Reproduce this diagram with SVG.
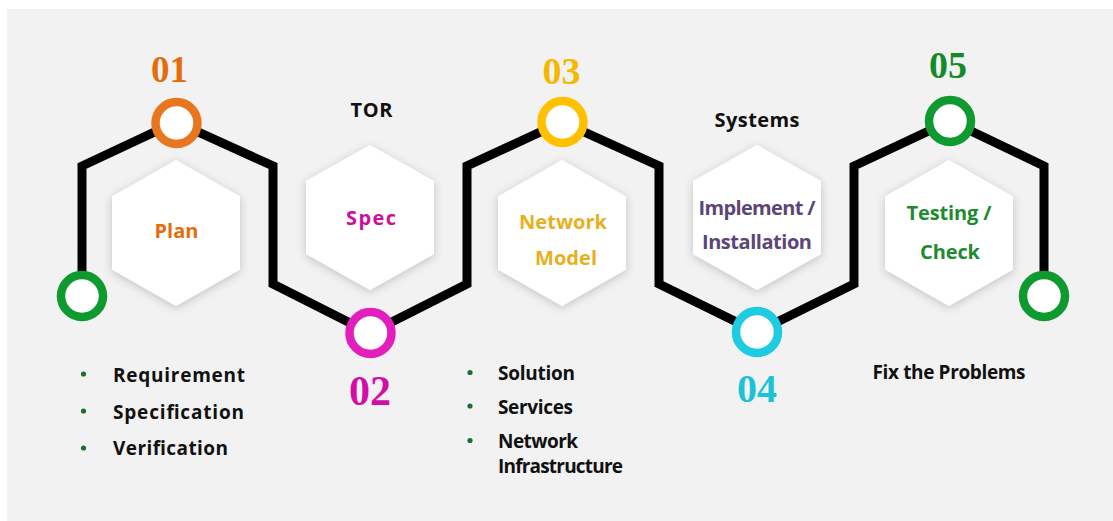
<svg xmlns="http://www.w3.org/2000/svg" width="1113" height="521" viewBox="0 0 1113 521">
<defs>
<filter id="sh" x="-30%" y="-30%" width="160%" height="160%">
<feDropShadow dx="0" dy="2" stdDeviation="5" flood-color="#000" flood-opacity="0.2"/>
</filter>
<style>
.hex{fill:#ffffff;filter:url(#sh)}
.ring{fill:#ffffff;stroke-width:8.5}
.num{font-family:"Liberation Serif","Times New Roman",serif;font-weight:700;text-anchor:middle}
.lbl{font-family:"Open Sans","Liberation Sans",sans-serif;font-weight:700;font-size:20px;text-anchor:middle}
.txt{font-family:"Open Sans","Liberation Sans",sans-serif;font-weight:700;font-size:19px;fill:#111111}
.dot{fill:#1e6e30}
</style>
</defs>
<rect x="0" y="0" width="1113" height="521" fill="#ffffff"/>
<rect x="7" y="9" width="1106" height="512" fill="#f2f2f2"/>

<g id="connectors">
<path d="M82,296 L82,166 L176,122 L273,166 L273,284 L370,333 L467,284 L467,166 L562,122 L659,166 L659,284 L757,332 L854,284 L854,166 L950,121 L1044,166 L1044,296" fill="none" stroke="#000000" stroke-width="9" stroke-linejoin="miter"/>
</g>

<g id="start">
<circle class="ring" cx="82" cy="296" r="21" stroke="#0f9a30"/>
</g>

<g id="step1">
<text class="num" x="169.5" y="82" font-size="37" fill="#e46c0a">01</text>
<circle class="ring" cx="176.5" cy="123" r="21" stroke="#e8761e"/>
<polygon class="hex" points="176,160 240,196.5 240,269.5 176,306 112,269.5 112,196.5"/>
<text class="lbl" x="176.5" y="237.5" fill="#e46c0a" textLength="44" lengthAdjust="spacing">Plan</text>
<circle class="dot" cx="83.5" cy="374" r="2.6"/>
<text class="txt" x="113" y="382" textLength="132" lengthAdjust="spacing">Requirement</text>
<circle class="dot" cx="83.5" cy="411" r="2.6"/>
<text class="txt" x="113" y="418.5" textLength="131" lengthAdjust="spacing">Specification</text>
<circle class="dot" cx="83.5" cy="448" r="2.6"/>
<text class="txt" x="113" y="455" textLength="115" lengthAdjust="spacing">Verification</text>
</g>

<g id="step2">
<text class="lbl" x="371.5" y="116.5" fill="#111111" textLength="42" lengthAdjust="spacing">TOR</text>
<polygon class="hex" points="370,145 434,181 434,254 370,290 306,254 306,181"/>
<text class="lbl" x="371" y="225" fill="#cc0f99" textLength="50" lengthAdjust="spacing">Spec</text>
<circle class="ring" cx="370.5" cy="333" r="21" stroke="#e21ebc"/>
<text class="num" x="370" y="405" font-size="42" fill="#d10fa8">02</text>
</g>

<g id="step3">
<text class="num" x="561.5" y="83.5" font-size="38" fill="#f5b800">03</text>
<circle class="ring" cx="562.5" cy="122" r="21" stroke="#ffc000"/>
<polygon class="hex" points="562,160 626,196.5 626,269.5 562,306 498,269.5 498,196.5"/>
<text class="lbl" x="563" y="228.5" fill="#e6b020" textLength="88" lengthAdjust="spacing">Network</text>
<text class="lbl" x="566" y="265" fill="#e6b020" textLength="62" lengthAdjust="spacing">Model</text>
<circle class="dot" cx="470" cy="372.5" r="2.6"/>
<text class="txt" x="498" y="379.5" textLength="77" lengthAdjust="spacing">Solution</text>
<circle class="dot" cx="470" cy="406" r="2.6"/>
<text class="txt" x="498" y="413.5" textLength="75" lengthAdjust="spacing">Services</text>
<circle class="dot" cx="470" cy="440.5" r="2.6"/>
<text class="txt" x="498" y="448" font-size="18" textLength="80" lengthAdjust="spacing">Network</text>
<text class="txt" x="498" y="473" font-size="18" textLength="125" lengthAdjust="spacing">Infrastructure</text>
</g>

<g id="step4">
<text class="lbl" x="757" y="127" fill="#111111" textLength="85" lengthAdjust="spacing">Systems</text>
<polygon class="hex" points="757,145 821,181 821,254 757,290 693,254 693,181"/>
<text class="lbl" x="757" y="215" fill="#5c4577" textLength="117" lengthAdjust="spacing">Implement /</text>
<text class="lbl" x="757" y="248.5" fill="#5c4577" textLength="110" lengthAdjust="spacing">Installation</text>
<circle class="ring" cx="757" cy="332" r="21" stroke="#1fcbe0"/>
<text class="num" x="757" y="402" font-size="40" fill="#1cc3d6">04</text>
</g>

<g id="step5">
<text class="num" x="948" y="78" font-size="38" fill="#138a2b">05</text>
<circle class="ring" cx="950" cy="121" r="21" stroke="#0f9a30"/>
<polygon class="hex" points="949,160 1013,196.5 1013,269.5 949,306 885,269.5 885,196.5"/>
<text class="lbl" x="949" y="220" fill="#1e8a30" textLength="85" lengthAdjust="spacing">Testing /</text>
<text class="lbl" x="950" y="258.5" fill="#1e8a30" textLength="60" lengthAdjust="spacing">Check</text>
<text class="txt" x="872.5" y="378.5" textLength="153" lengthAdjust="spacing">Fix the Problems</text>
</g>

<g id="end">
<circle class="ring" cx="1044" cy="296" r="21" stroke="#0f9a30"/>
</g>
</svg>
